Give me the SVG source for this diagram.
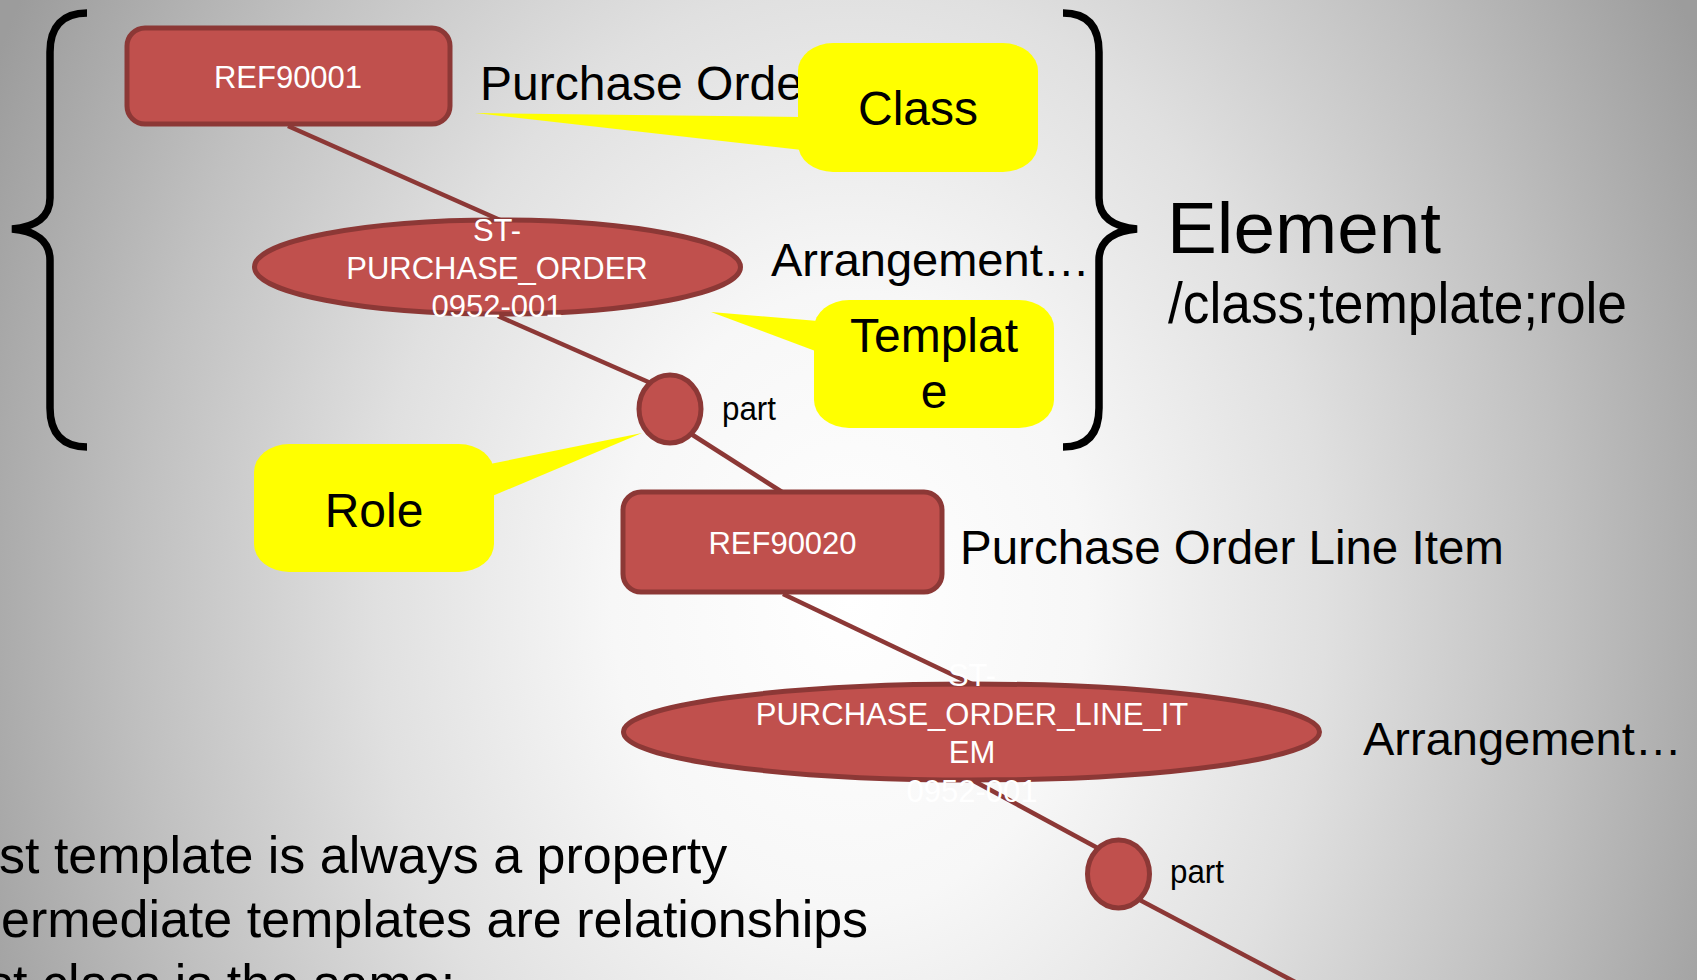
<svg xmlns="http://www.w3.org/2000/svg" width="1697" height="980" viewBox="0 0 1697 980">
  <defs>
    <radialGradient id="bg" gradientUnits="userSpaceOnUse" cx="850" cy="600" r="950" gradientTransform="translate(850,600) scale(1,1.3) translate(-850,-600)">
      <stop offset="0" stop-color="#ffffff"/>
      <stop offset="0.25" stop-color="#f7f7f7"/>
      <stop offset="0.5" stop-color="#e0e0e0"/>
      <stop offset="0.75" stop-color="#c0c0c0"/>
      <stop offset="1" stop-color="#9c9c9c"/>
    </radialGradient>
  </defs>
  <style>
    .node { fill: #c0504d; stroke: #8c3836; stroke-width: 5; }
    .edge { stroke: #8c3836; stroke-width: 4.5; fill: none; }
    .callout { fill: #ffff00; stroke: none; }
    .brace { fill: none; stroke: #000000; stroke-width: 7.5; }
    .lbl { font-family: "Liberation Sans", Arial, sans-serif; fill: #ffffff; font-size: 31px; text-anchor: middle; }
    .txt { font-family: "Liberation Sans", Arial, sans-serif; fill: #000000; }
    .ctxt { font-family: "Liberation Sans", Arial, sans-serif; fill: #000000; font-size: 48px; text-anchor: middle; }
  </style>

  <rect x="0" y="0" width="1697" height="980" fill="url(#bg)"/>

  <!-- braces -->
  <g id="brace-left">
    <path class="brace" d="M 87 13 C 63 13 50 26 50 52 L 50 198 C 50 217 36 227 12 229 C 36 231 50 241 50 260 L 50 408 C 50 434 63 447 87 447"/>
  </g>
  <g id="brace-right">
    <path class="brace" d="M 1063 13 C 1087 13 1099 26 1099 52 L 1099 198 C 1099 217 1113 227 1137 229 C 1113 231 1099 241 1099 260 L 1099 408 C 1099 434 1087 447 1063 447"/>
  </g>

  <!-- connectors -->
  <g id="connectors">
    <line class="edge" x1="288" y1="126" x2="500" y2="220"/>
    <line class="edge" x1="498" y1="316" x2="662" y2="388"/>
    <line class="edge" x1="688" y1="432" x2="782" y2="492"/>
    <line class="edge" x1="783" y1="594" x2="972" y2="684"/>
    <line class="edge" x1="972" y1="780" x2="1105" y2="852"/>
    <line class="edge" x1="1136" y1="898" x2="1297" y2="983"/>
  </g>

  <!-- plain labels -->
  <g id="label-purchase-order">
    <text class="txt" x="480" y="100" font-size="48">Purchase Order</text>
  </g>

  <!-- nodes -->
  <g id="node-ref90001">
    <rect class="node" x="127" y="28" width="323" height="96" rx="18" ry="18"/>
    <text class="lbl" x="288" y="88">REF90001</text>
  </g>
  <g id="node-st-purchase-order">
    <ellipse class="node" cx="497.5" cy="267" rx="243" ry="47"/>
    <text class="lbl" x="497" y="241">ST-</text>
    <text class="lbl" x="497" y="279">PURCHASE_ORDER</text>
    <text class="lbl" x="497" y="317">0952-001</text>
  </g>
  <g id="node-part1">
    <ellipse class="node" cx="670" cy="409" rx="31" ry="34"/>
    <text class="txt" x="722" y="420" font-size="33" textLength="54" lengthAdjust="spacingAndGlyphs">part</text>
  </g>
  <g id="node-ref90020">
    <rect class="node" x="623" y="492" width="319" height="100" rx="18" ry="18"/>
    <text class="lbl" x="782.5" y="554">REF90020</text>
  </g>
  <g id="node-st-purchase-order-line-item">
    <ellipse class="node" cx="971.5" cy="732" rx="348" ry="48"/>
    <text class="lbl" x="972" y="686">ST-</text>
    <text class="lbl" x="972" y="725">PURCHASE_ORDER_LINE_IT</text>
    <text class="lbl" x="972" y="763">EM</text>
    <text class="lbl" x="972" y="802">0952-001</text>
  </g>
  <g id="node-part2">
    <ellipse class="node" cx="1118.5" cy="874" rx="31" ry="34"/>
    <text class="txt" x="1170" y="883" font-size="33" textLength="54" lengthAdjust="spacingAndGlyphs">part</text>
  </g>

  <g id="label-arrangement1">
    <text class="txt" x="771" y="276" font-size="47">Arrangement…</text>
  </g>
  <g id="label-arrangement2">
    <text class="txt" x="1363" y="755" font-size="47">Arrangement…</text>
  </g>
  <g id="label-po-line-item">
    <text class="txt" x="960" y="564" font-size="47.5">Purchase Order Line Item</text>
  </g>

  <!-- callouts -->
  <g id="callout-class">
    <polygon class="callout" points="475,113 802,117 802,150"/>
    <rect class="callout" x="798" y="43" width="240" height="129" rx="35" ry="28"/>
    <text class="ctxt" x="918" y="125">Class</text>
  </g>
  <g id="callout-template">
    <polygon class="callout" points="711,312 818,321 818,352"/>
    <rect class="callout" x="814" y="300" width="240" height="128" rx="35" ry="28"/>
    <text class="ctxt" x="934" y="352">Templat</text>
    <text class="ctxt" x="934" y="408">e</text>
  </g>
  <g id="callout-role">
    <polygon class="callout" points="642,433 490,464 490,497"/>
    <rect class="callout" x="254" y="444" width="240" height="128" rx="35" ry="28"/>
    <text class="ctxt" x="374" y="527">Role</text>
  </g>

  <!-- element title -->
  <g id="element-title">
    <text class="txt" x="1167" y="253" font-size="73" textLength="274" lengthAdjust="spacingAndGlyphs">Element</text>
    <text class="txt" x="1168" y="323" font-size="58" textLength="459" lengthAdjust="spacingAndGlyphs">/class;template;role</text>
  </g>

  <!-- bottom text -->
  <g id="bottom-text">
    <text class="txt" x="-1" y="873" font-size="52">st template is always a property</text>
    <text class="txt" x="1" y="937" font-size="52">ermediate templates are relationships</text>
    <text class="txt" x="-13" y="1001" font-size="52">st class is the same:</text>
  </g>
</svg>
